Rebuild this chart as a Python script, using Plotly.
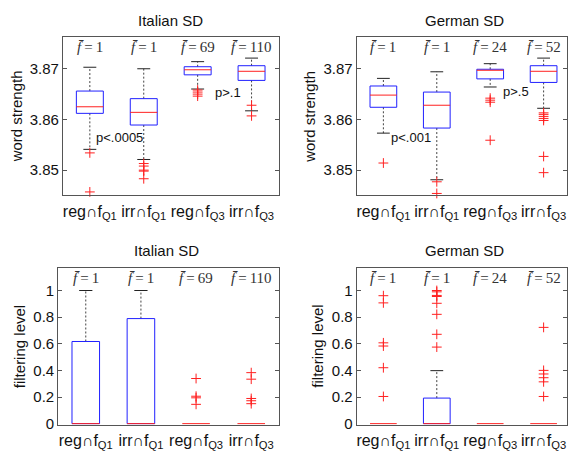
import plotly.graph_objects as go

# ---------------- data ----------------
cats = ["reg∩f<sub>Q1</sub>", "irr∩f<sub>Q1</sub>", "reg∩f<sub>Q3</sub>", "irr∩f<sub>Q3</sub>"]
fbar_it = [1, 1, 69, 110]
fbar_de = [1, 1, 24, 52]

# word strength, Italian SD
ws_it_lower = [3.8541, 3.8521, 3.8660, 3.8617]
ws_it_q1 = [3.8612, 3.8589, 3.8688, 3.8677]
ws_it_med = [3.8625, 3.8614, 3.8698, 3.8695]
ws_it_q3 = [3.8656, 3.8641, 3.8704, 3.8706]
ws_it_upper = [3.8703, 3.8700, 3.8714, 3.8721]
ws_it_out = [[3.8534, 3.8457],
             [3.8513, 3.8508, 3.8500, 3.8498, 3.8483],
             [3.8658, 3.8654, 3.8650, 3.8646],
             [3.8628, 3.8607]]

# word strength, German SD
ws_de_lower = [3.8573, 3.8481, 3.8664, 3.8622]
ws_de_q1 = [3.8624, 3.8583, 3.8680, 3.8673]
ws_de_med = [3.8648, 3.8628, 3.8697, 3.8695]
ws_de_q3 = [3.8666, 3.8654, 3.8699, 3.8706]
ws_de_upper = [3.8681, 3.8694, 3.8710, 3.8721]
ws_de_out = [[3.8514],
             [3.8477, 3.8454],
             [3.8642, 3.8638, 3.8634, 3.8559],
             [3.8613, 3.8610, 3.8606, 3.8602, 3.8598, 3.8527, 3.8495]]

# filtering level, Italian SD
fl_it_lower = [0, 0, 0, 0]
fl_it_q1 = [0, 0, 0, 0]
fl_it_med = [0, 0, 0, 0]
fl_it_q3 = [0.617, 0.789, 0, 0]
fl_it_upper = [1.0, 1.0, 0, 0]
fl_it_out = [[], [], [0.339, 0.206, 0.194, 0.145], [0.383, 0.334, 0.189, 0.172, 0.150]]

# filtering level, German SD
fl_de_lower = [0, 0, 0, 0]
fl_de_q1 = [0, 0, 0, 0]
fl_de_med = [0, 0, 0, 0]
fl_de_q3 = [0, 0.192, 0, 0]
fl_de_upper = [0, 0.398, 0, 0]
fl_de_out = [[0.961, 0.907, 0.607, 0.583, 0.420, 0.204],
             [1.0, 0.99, 0.963, 0.955, 0.904, 0.821, 0.671, 0.575],
             [],
             [0.723, 0.400, 0.373, 0.345, 0.314, 0.204]]

# p-value notes: (panel, x, y, text)
pnotes = [(0, 1.07, 3.8564, "p<.0005"), (0, 3.28, 3.8653, "p>.1"),
          (1, 1.11, 3.8564, "p<.001"), (1, 3.20, 3.8656, "p>.5")]

# ---------------- layout geometry ----------------
W, H = 568, 451
SANS = "Liberation Sans, Arial, sans-serif"
SERIF = "Liberation Serif, DejaVu Serif, serif"
BW = 0.25   # box half width (category units)
CW = 0.12   # cap half width

panels = [
    dict(title="Italian SD", ylab="word strength", px=(63, 279), py=(38, 199), xr=(0.5, 4.5),
         yr=(3.8450, 3.8762), yt=[3.85, 3.86, 3.87], ytt=["3.85", "3.86", "3.87"],
         d=(ws_it_lower, ws_it_q1, ws_it_med, ws_it_q3, ws_it_upper, ws_it_out), fb=fbar_it, labx=16),
    dict(title="German SD", ylab="word strength", px=(357.3, 568), py=(38, 199), xr=(0.5, 4.438),
         yr=(3.8450, 3.8762), yt=[3.85, 3.86, 3.87], ytt=["3.85", "3.86", "3.87"],
         d=(ws_de_lower, ws_de_q1, ws_de_med, ws_de_q3, ws_de_upper, ws_de_out), fb=fbar_de, labx=310),
    dict(title="Italian SD", ylab="filtering level", px=(58.3, 279.3), py=(272.7, 432.3), xr=(0.5, 4.5),
         yr=(-0.0074, 1.17), yt=[0, 0.2, 0.4, 0.6, 0.8, 1], ytt=["0", "0.2", "0.4", "0.6", "0.8", "1"],
         d=(fl_it_lower, fl_it_q1, fl_it_med, fl_it_q3, fl_it_upper, fl_it_out), fb=fbar_it, labx=19),
    dict(title="German SD", ylab="filtering level", px=(357.3, 568), py=(272.7, 432.3), xr=(0.5, 4.438),
         yr=(-0.0074, 1.17), yt=[0, 0.2, 0.4, 0.6, 0.8, 1], ytt=["0", "0.2", "0.4", "0.6", "0.8", "1"],
         d=(fl_de_lower, fl_de_q1, fl_de_med, fl_de_q3, fl_de_upper, fl_de_out), fb=fbar_de, labx=318),
]

fig = go.Figure()
annotations = []
layout = {}
for k, p in enumerate(panels):
    sx = "" if k == 0 else str(k + 1)
    xa, ya = "x" + sx, "y" + sx
    lower, q1, med, q3, upper, outs = p["d"]
    wx, wy, cx, cy, bx, by, mx, my, ox, oy = [], [], [], [], [], [], [], [], [], []
    for i in range(4):
        c = i + 1
        if upper[i] > q3[i]:
            wx += [c, c, None]; wy += [q3[i], upper[i], None]
            cx += [c - CW, c + CW, None]; cy += [upper[i], upper[i], None]
        if lower[i] < q1[i]:
            wx += [c, c, None]; wy += [q1[i], lower[i], None]
            cx += [c - CW, c + CW, None]; cy += [lower[i], lower[i], None]
        if q3[i] > q1[i]:
            bx += [c - BW, c + BW, c + BW, c - BW, c - BW, None]
            by += [q1[i], q1[i], q3[i], q3[i], q1[i], None]
        mx += [c - BW, c + BW, None]; my += [med[i], med[i], None]
        ox += [c] * len(outs[i]); oy += list(outs[i])
    common = dict(xaxis=xa, yaxis=ya, showlegend=False, hoverinfo="skip", cliponaxis=False)
    fig.add_trace(go.Scatter(x=wx, y=wy, mode="lines", line=dict(color="#444444", width=1, dash="2px,2px"), **common))
    fig.add_trace(go.Scatter(x=cx, y=cy, mode="lines", line=dict(color="#222222", width=1), **common))
    fig.add_trace(go.Scatter(x=bx, y=by, mode="lines", line=dict(color="#2020ff", width=1), **common))
    fig.add_trace(go.Scatter(x=mx, y=my, mode="lines", line=dict(color="#ff2020", width=1), **common))
    fig.add_trace(go.Scatter(x=ox, y=oy, mode="markers",
                             marker=dict(symbol="cross-thin", size=7, line=dict(color="#ff2020", width=1)),
                             **common))

    x0, x1 = p["px"]; yt0, yb0 = p["py"]
    layout["xaxis" + sx] = dict(domain=[x0 / W, x1 / W], anchor=ya, range=list(p["xr"]),
                                tickmode="array", tickvals=[1, 2, 3, 4], ticktext=cats,
                                ticks="", showline=True, mirror=True, linecolor="#555555", linewidth=1,
                                showgrid=False, zeroline=False, ticklabelstandoff=1,
                                tickfont=dict(family=SANS, size=16, color="#111111"))
    layout["yaxis" + sx] = dict(domain=[1 - yb0 / H, 1 - yt0 / H], anchor=xa, range=list(p["yr"]),
                                tickmode="array", tickvals=p["yt"], ticktext=p["ytt"],
                                ticks="inside", ticklen=4, tickcolor="#555555",
                                showline=True, mirror="ticks", linecolor="#555555", linewidth=1,
                                showgrid=False, zeroline=False,
                                tickfont=dict(family=SANS, size=15, color="#111111"))
    # title
    annotations.append(dict(text=p["title"], x=(x0 + (x0 + 216)) / 2 / W, y=1 - (yt0 - 17.5) / H,
                            xref="paper", yref="paper", showarrow=False, xanchor="center", yanchor="middle",
                            font=dict(family=SANS, size=15, color="#111111")))
    # y label
    annotations.append(dict(text=p["ylab"], x=p["labx"] / W, y=1 - (yt0 + yb0) / 2 / H,
                            xref="paper", yref="paper", showarrow=False, textangle=-90,
                            xanchor="center", yanchor="middle",
                            font=dict(family=SANS, size=15, color="#111111")))
    # f-bar labels
    for i, f in enumerate(p["fb"]):
        annotations.append(dict(text="<i>f\u0304</i>\u2009=\u2009" + str(f), x=i + 1, y=1 - 10 / (yb0 - yt0),
                                xref=xa, yref=ya + " domain", showarrow=False,
                                xanchor="center", yanchor="middle",
                                font=dict(family=SERIF, size=15, color="#333333")))

for (k, x, y, t) in pnotes:
    sx = "" if k == 0 else str(k + 1)
    annotations.append(dict(text=t, x=x, y=y, xref="x" + sx, yref="y" + sx, showarrow=False,
                            xanchor="left", yanchor="middle",
                            font=dict(family=SANS, size=13, color="#111111")))

fig.update_layout(width=W, height=H, margin=dict(l=0, r=0, t=0, b=0),
                  paper_bgcolor="white", plot_bgcolor="white",
                  annotations=annotations, **layout)
fig.write_html(
    "out.html",
    config={"displayModeBar": False},
    post_script=("var h=document.documentElement,b=document.body;"
                 "h.style.margin='0';h.style.overflow='hidden';h.style.height='451px';"
                 "b.style.margin='0';b.style.overflow='hidden';b.style.height='451px';"),
)
